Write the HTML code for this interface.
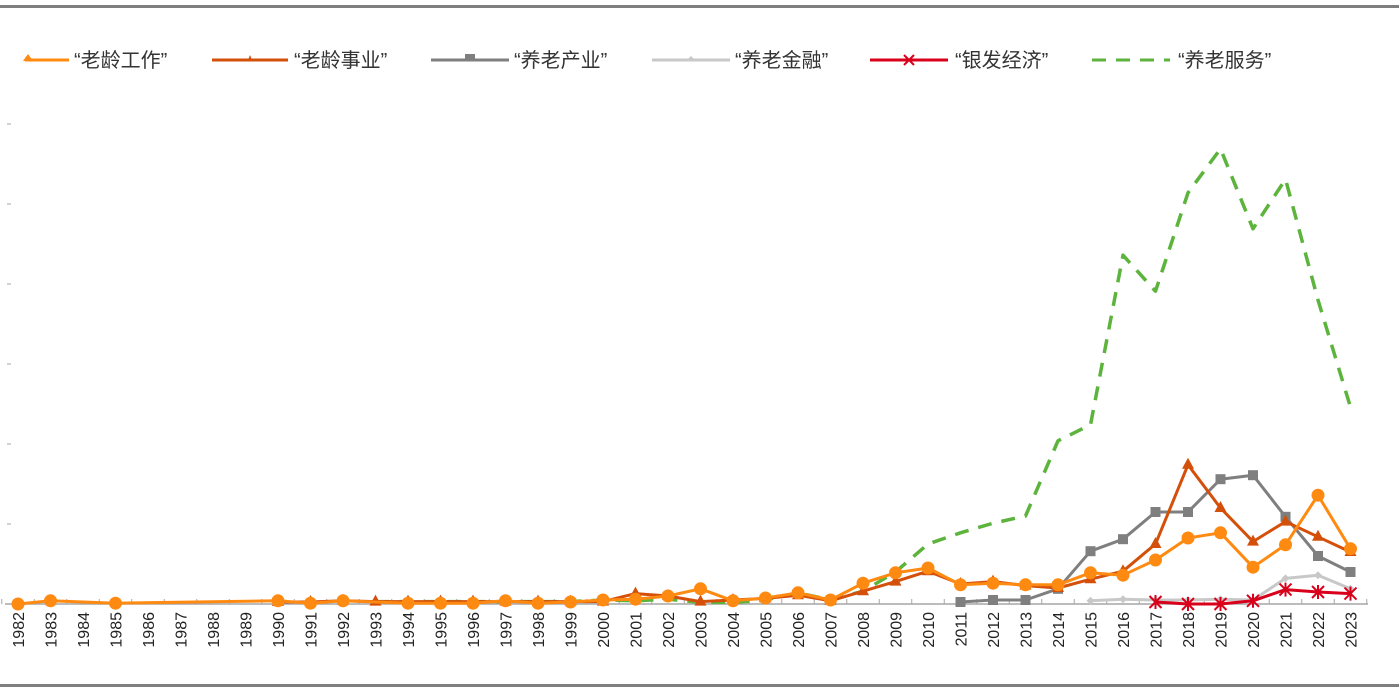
<!DOCTYPE html>
<html><head><meta charset="utf-8"><style>
body{margin:0;background:#fff;width:1399px;height:689px;overflow:hidden;font-family:"Liberation Sans","Noto Sans CJK SC",sans-serif;}
</style></head><body>
<svg id="chart" width="1399" height="689" xmlns="http://www.w3.org/2000/svg" style="font-family:'Liberation Sans','Noto Sans CJK SC',sans-serif">
<rect x="0" y="5" width="1399" height="3" fill="#7f7f7f"/>
<rect x="0" y="684" width="1399" height="3" fill="#7f7f7f"/>
<g id="legend"></g>
<g id="axes"></g>
<g id="series"></g>
</svg>
<script>
const years = [];
for (let y = 1982; y <= 2023; y++) years.push(String(y));
const yTicks = [0,10,20,30,40,50,60];
const N = null;
// values indexed by year 1982..2023
const laolingGongzuo = [0,0.4,N,0.1,N,N,N,N,0.4,0.1,0.4,N,0.1,0.1,0.1,0.4,0.1,0.25,0.5,0.6,1.0,1.9,0.4,0.75,1.4,0.5,2.6,3.9,4.5,2.4,2.6,2.4,2.4,3.9,3.6,5.5,8.25,8.9,4.6,7.4,13.6,6.9];
const laolingShiye = [N,N,N,N,N,N,N,N,0.25,0.25,0.4,0.3,0.3,0.3,0.3,0.3,0.3,0.3,0.3,1.3,1.0,0.3,0.5,0.7,1.1,0.4,1.6,2.8,4.1,2.5,2.8,2.3,2.0,3.1,4.1,7.5,17.4,12.0,7.8,10.3,8.4,6.5];
const yanglaoChanye = [N,N,N,N,N,N,N,N,N,N,N,N,N,N,N,N,N,N,N,N,N,N,N,N,N,N,N,N,N,0.25,0.5,0.5,1.9,6.6,8.1,11.5,11.5,15.6,16.1,10.9,6.0,4.0];
const yanglaoJinrong = [N,N,N,N,N,N,N,N,N,N,N,N,N,N,N,N,N,N,N,N,N,N,N,N,N,N,N,N,N,N,N,N,N,0.4,0.6,0.5,0.5,0.6,0.5,3.2,3.6,1.9];
const yinfaJingji = [N,N,N,N,N,N,N,N,N,N,N,N,N,N,N,N,N,N,N,N,N,N,N,N,N,N,N,N,N,N,N,N,N,N,N,0.25,0,0,0.4,1.8,1.5,1.3];
const yanglaoFuwu = [N,N,N,N,N,N,N,N,N,N,N,0.3,0.3,0.3,0.3,0.3,0.3,0.3,0.5,0.4,0.6,0.2,0.2,0.5,1.4,0.5,1.6,4.0,7.5,8.9,10.1,11.0,20.4,22.4,43.6,39.1,51.4,56.9,46.9,53.1,38.0,24.6];

const X0=18, DX=32.5, Y0=604, YTOP=124, YMAX=60;
const xs = i => X0 + DX*i;
const ys = v => Y0 - (Y0-YTOP)*v/YMAX;
const NS='http://www.w3.org/2000/svg';
function mk(tag, attrs, parent){const e=document.createElementNS(NS,tag);for(const k in attrs)e.setAttribute(k,attrs[k]);parent.appendChild(e);return e;}
const axes=document.getElementById('axes'), ser=document.getElementById('series'), leg=document.getElementById('legend');

// x axis
let ax=mk('line',{x1:5,x2:1368,y1:Y0,y2:Y0,stroke:'#a6a6a6','stroke-width':1.5},axes);


for(let i=0;i<=years.length;i++){
  const tx=xs(i)-DX/2;
  const t=mk('line',{x1:tx,x2:tx,y1:Y0-5,y2:Y0,stroke:'#a6a6a6','stroke-width':1},axes);
  
  
}
years.forEach((yr,i)=>{
  const t=mk('text',{x:0,y:0,transform:`translate(${xs(i)+6},${612}) rotate(-90)`,'text-anchor':'end','font-size':16,fill:'#222'},axes);
  t.textContent=yr;
  
  
});
yTicks.forEach(v=>{
  const t=mk('line',{x1:7,x2:11,y1:ys(v),y2:ys(v),stroke:'#a6a6a6','stroke-width':1},axes);
  
  
});

function marker(type,x,y,color,g){
  let e;
  if(type==='circle') e=mk('circle',{cx:x,cy:y,r:6.5,fill:color},g);
  else if(type==='tri') e=mk('polygon',{points:`${x},${y-7} ${x-6},${y+4} ${x+6},${y+4}`,fill:color},g);
  else if(type==='square') e=mk('rect',{x:x-5,y:y-5,width:10,height:10,fill:color},g);
  else if(type==='diamond') e=mk('polygon',{points:`${x},${y-4} ${x+4},${y} ${x},${y+4} ${x-4},${y}`,fill:color},g);
  else if(type==='star'){e=mk('path',{d:`M${x-6} ${y-6}L${x+6} ${y+6}M${x+6} ${y-6}L${x-6} ${y+6}M${x} ${y-7}L${x} ${y+7}`,stroke:color,'stroke-width':2,fill:'none'},g);}
  if(e){}
}
const seriesDefs=[
 {name:'养老服务',data:yanglaoFuwu,color:'#5cb43c',marker:null,dash:'14 10',w:3.5},
 {name:'养老金融',data:yanglaoJinrong,color:'#c8c8c8',marker:'diamond',w:3},
 {name:'养老产业',data:yanglaoChanye,color:'#7f7f7f',marker:'square',w:3},
 {name:'老龄事业',data:laolingShiye,color:'#d4500a',marker:'tri',w:3},
 {name:'老龄工作',data:laolingGongzuo,color:'#ff8a12',marker:'circle',w:3},
 {name:'银发经济',data:yinfaJingji,color:'#d9001b',marker:'star',w:3},
];
seriesDefs.forEach(s=>{
  const g=mk('g',{},ser);
  
  
  const pts=[];
  s.data.forEach((v,i)=>{if(v!==null)pts.push([xs(i),ys(v)]);});
  const p=mk('polyline',{points:pts.map(p=>p.join(',')).join(' '),fill:'none',stroke:s.color,'stroke-width':s.w,'stroke-linejoin':'round'},g);
  if(s.dash)p.setAttribute('stroke-dasharray',s.dash);
  
  
  if(s.marker)pts.forEach(q=>marker(s.marker,q[0],q[1],s.color,g));
});

// legend
const legItems=[
 {label:'“老龄工作”',color:'#ff8a12',x1:25,x2:69,tx:74,m:'tri'},
 {label:'“老龄事业”',color:'#d4500a',x1:212,x2:288,tx:294,m:'smalltri'},
 {label:'“养老产业”',color:'#7f7f7f',x1:431,x2:509,tx:514,m:'square'},
 {label:'“养老金融”',color:'#c8c8c8',x1:652,x2:730,tx:735,m:'diamond'},
 {label:'“银发经济”',color:'#d9001b',x1:870,x2:948,tx:955,m:'star'},
 {label:'“养老服务”',color:'#5cb43c',x1:1092,x2:1170,tx:1178,m:'dash'},
];
legItems.forEach(it=>{
  const g=mk('g',{},leg);
  
  
  const ly=60, cx=(it.x1+it.x2)/2;
  const l=mk('line',{x1:it.x1,x2:it.x2,y1:ly,y2:ly,stroke:it.color,'stroke-width':3},g);
  if(it.m==='dash')l.setAttribute('stroke-dasharray','14 10');
  if(it.m==='tri')mk('polygon',{points:`${it.x1+3},${ly-6} ${it.x1-2},${ly+1} ${it.x1+8},${ly+1}`,fill:it.color},g);
  if(it.m==='smalltri')mk('polygon',{points:`${cx},${ly-5} ${cx-2},${ly} ${cx+2},${ly}`,fill:it.color},g);
  if(it.m==='square')mk('rect',{x:cx-5,y:ly-6,width:10,height:6,fill:it.color},g);
  if(it.m==='diamond')mk('polygon',{points:`${cx},${ly-4} ${cx+4},${ly} ${cx-4},${ly}`,fill:it.color},g);
  if(it.m==='star')mk('path',{d:`M${cx-5} ${ly-5}L${cx+5} ${ly+5}M${cx+5} ${ly-5}L${cx-5} ${ly+5}`,stroke:it.color,'stroke-width':2},g);
  const t=mk('text',{x:it.tx,y:ly+7,'font-size':20,fill:'#333'},g);
  t.textContent=it.label;
  
  
});
</script>
</body></html>
